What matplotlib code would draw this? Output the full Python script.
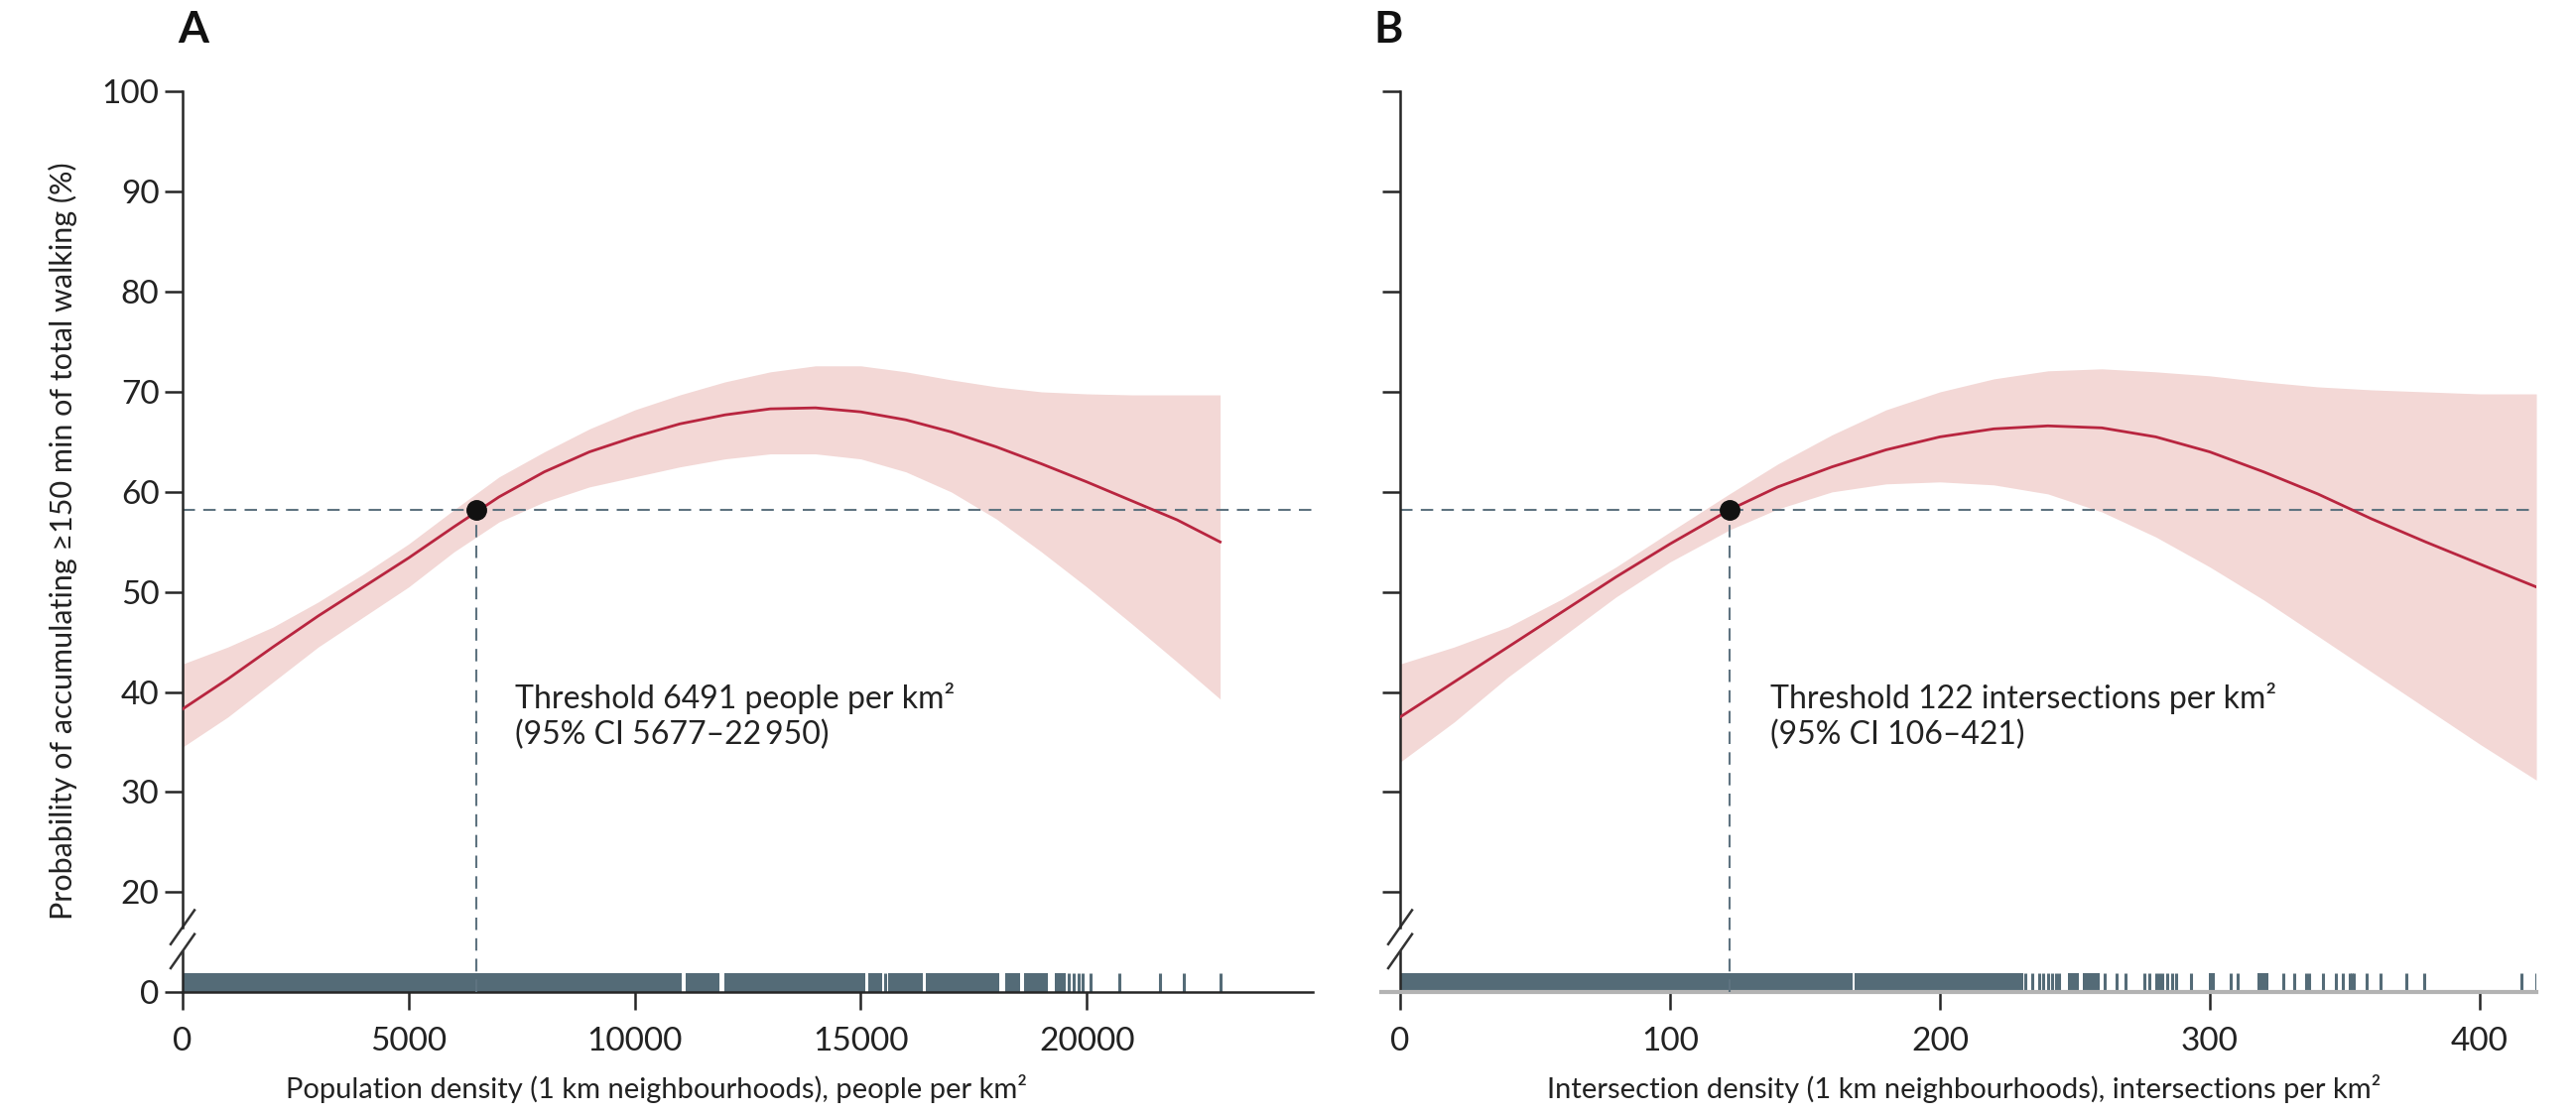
import matplotlib
matplotlib.use("Agg")
import matplotlib.pyplot as plt
import matplotlib.transforms as mtransforms
import numpy as np

plt.rcParams['font.family'] = ['Lato', 'DejaVu Sans']

# Panel A: population density
pop_x = [0, 1000, 2000, 3000, 4000, 5000, 6000, 7000, 8000, 9000, 10000, 11000,
         12000, 13000, 14000, 15000, 16000, 17000, 18000, 19000, 20000, 21000, 22000, 22950]
pop_fit = [38.3, 41.3, 44.5, 47.6, 50.5, 53.4, 56.5, 59.5, 62.0, 64.0, 65.5, 66.8,
           67.7, 68.3, 68.4, 68.0, 67.2, 66.0, 64.5, 62.8, 61.0, 59.1, 57.2, 55.0]
pop_lo = [34.5, 37.5, 41.0, 44.5, 47.5, 50.5, 54.0, 57.0, 59.0, 60.5, 61.5, 62.5,
          63.3, 63.8, 63.8, 63.3, 62.0, 60.0, 57.3, 54.0, 50.5, 46.8, 43.0, 39.3]
pop_hi = [42.8, 44.5, 46.5, 49.0, 51.8, 54.8, 58.2, 61.5, 64.0, 66.3, 68.2, 69.7,
          71.0, 72.0, 72.6, 72.6, 72.0, 71.2, 70.5, 70.0, 69.8, 69.7, 69.7, 69.7]
pop_threshold = 6491
pop_rug_spans = [(0, 11050), (11130, 11880), (11990, 15090), (15170, 15480),
                 (15610, 16380), (16450, 18070), (18200, 18520), (18620, 19130),
                 (19300, 19540)]
pop_rug_ticks = [15530, 19610, 19700, 19810, 19900, 20090, 20730, 21610, 22150, 22950]
pop_xticks = [0, 5000, 10000, 15000, 20000]
pop_text = "Threshold 6491 people per km\u00b2\n(95% CI 5677\u201322\u2009950)"
pop_xlabel = "Population density (1 km neighbourhoods), people per km\u00b2"

# Panel B: intersection density
int_x = [0, 20, 40, 60, 80, 100, 122, 140, 160, 180, 200, 220, 240, 260, 280,
         300, 320, 340, 360, 380, 400, 421]
int_fit = [37.5, 41.0, 44.5, 48.0, 51.5, 54.8, 58.2, 60.5, 62.5, 64.2, 65.5, 66.3,
           66.6, 66.4, 65.5, 64.0, 62.0, 59.8, 57.3, 55.0, 52.8, 50.5]
int_lo = [33.0, 37.0, 41.5, 45.5, 49.5, 53.0, 56.2, 58.3, 60.0, 60.8, 61.0, 60.7,
          59.8, 58.0, 55.5, 52.5, 49.2, 45.6, 42.0, 38.4, 34.8, 31.2]
int_hi = [42.8, 44.5, 46.5, 49.3, 52.5, 56.0, 59.8, 62.8, 65.7, 68.2, 70.0, 71.3,
          72.1, 72.3, 72.0, 71.6, 71.0, 70.5, 70.2, 70.0, 69.8, 69.8]
int_threshold = 122
int_rug_spans = [(0, 167.6), (168.4, 231.0), (247.3, 251.4), (253.0, 259.3),
                 (299.5, 302.0), (317.5, 321.6)]
int_rug_ticks = [231.8, 234.3, 236.7, 238.3, 240.0, 241.6, 243.0, 244.1, 261.2,
                 265.3, 268.6, 275.9, 277.5, 280.0, 281.2, 282.4, 284.4, 286.0,
                 287.6, 293.0, 307.7, 310.2, 327.3, 331.4, 335.8, 336.8, 342.0,
                 346.9, 349.3, 351.8, 352.6, 353.4, 358.3, 363.2, 373.0, 379.5,
                 415.4, 421.1]
int_xticks = [0, 100, 200, 300, 400]
int_text = "Threshold 122 intersections per km\u00b2\n(95% CI 106\u2013421)"
int_xlabel = "Intersection density (1 km neighbourhoods), intersections per km\u00b2"

threshold_prob = 58.2
yticks = [20, 30, 40, 50, 60, 70, 80, 90, 100]

LINE = '#b8253f'
BAND = '#f3d8d6'
RUG = '#546b77'
DASH = '#5e7380'
AX = '#262626'
FS = 24

W, H = 2596, 1125
fig = plt.figure(figsize=(W / 100, H / 100), dpi=100)


def fx(px):
    return px / W


def fy(py):
    return 1 - py / H


def panel(left_px, right_px, xmax, x, fit, lo, hi, thr, spans, ticks, xticks,
          text, text_x, show_y, gray_base):
    bottom = fy(1000.2)
    rug_top = fy(958.5)
    # rug axes
    rax = fig.add_axes([fx(left_px), bottom, fx(right_px - left_px), rug_top - bottom])
    rax.set_xlim(0, xmax)
    rax.set_ylim(0, 1)
    rax.broken_barh([(a, b - a) for a, b in spans], (0, 0.47), facecolors=RUG, lw=0)
    rax.vlines(ticks, 0, 0.47, color=RUG, lw=2.2)
    rax.spines['top'].set_visible(False)
    rax.spines['right'].set_visible(False)
    rax.spines['left'].set_color(AX)
    rax.spines['left'].set_linewidth(1.8)
    if gray_base:
        rax.spines['bottom'].set_color('#b3b3b3')
        rax.spines['bottom'].set_linewidth(3)
        rax.spines['bottom'].set_bounds(-7, xmax)
    else:
        rax.spines['bottom'].set_color(AX)
        rax.spines['bottom'].set_linewidth(1.8)
    rax.set_xticks(xticks)
    rax.set_xticklabels([str(t) for t in xticks])
    rax.tick_params(axis='x', length=13, width=1.8, color=AX, labelsize=FS,
                    pad=12, labelcolor='#222222')
    if show_y:
        rax.set_yticks([0])
        rax.set_yticklabels(['0'])
        rax.tick_params(axis='y', length=13, width=1.8, color=AX, labelsize=FS,
                        pad=4, labelcolor='#222222')
    else:
        rax.set_yticks([])
    rax.vlines([thr], 0, 1, color=DASH, lw=1.5, linestyles=(0, (6, 4)))

    # main axes
    ax = fig.add_axes([fx(left_px), bottom, fx(right_px - left_px), fy(92.4) - bottom])
    ax.patch.set_alpha(0)
    ax.set_xlim(0, xmax)
    ax.set_ylim(10, 100)
    ax.fill_between(x, lo, hi, color=BAND, lw=0, zorder=1)
    ax.plot(x, fit, color=LINE, lw=2.0, zorder=3)
    ax.plot([0, xmax], [threshold_prob, threshold_prob], color=DASH, lw=1.5,
            ls=(0, (6, 4)), zorder=2, clip_on=False)
    ax.plot([thr, thr], [10, threshold_prob], color=DASH, lw=1.5,
            ls=(0, (6, 4)), zorder=2)
    ax.plot([thr], [threshold_prob], 'o', color='#111111', ms=14, zorder=4)
    ax.text(text_x, 37.6, text, fontsize=23, color='#222222', va='center',
            ha='left', linespacing=1.25)
    for s in ['top', 'right', 'bottom']:
        ax.spines[s].set_visible(False)
    ax.spines['left'].set_color(AX)
    ax.spines['left'].set_linewidth(1.8)
    ax.spines['left'].set_bounds(16.5, 100)
    ax.set_xticks([])
    ax.set_yticks(yticks)
    if show_y:
        ax.set_yticklabels([str(t) for t in yticks])
    else:
        ax.set_yticklabels([])
    ax.tick_params(axis='y', length=13, width=1.8, color=AX, labelsize=FS,
                   pad=4, labelcolor='#222222')
    # axis break marks
    tr = mtransforms.blended_transform_factory(ax.transAxes, ax.transData)
    dx = 12 / (right_px - left_px)
    for yc in [16.5, 14.1]:
        ax.plot([-dx, dx], [yc - 1.7, yc + 1.7], color='#333333', lw=1.8,
                transform=tr, clip_on=False)
    return ax


panel(184, 1323, 25000, pop_x, pop_fit, pop_lo, pop_hi, pop_threshold,
      pop_rug_spans, pop_rug_ticks, pop_xticks, pop_text, 7350, True, False)
panel(1411, 2556, 421, int_x, int_fit, int_lo, int_hi, int_threshold,
      int_rug_spans, int_rug_ticks, int_xticks, int_text, 137, False, True)

fig.text(fx(195), fy(30), 'A', fontsize=32, fontweight='bold', ha='center',
         va='center', color='#111111')
fig.text(fx(1399), fy(30), 'B', fontsize=32, fontweight='bold', ha='center',
         va='center', color='#111111')
fig.text(fx(63), fy(545), 'Probability of accumulating \u2265150 min of total walking (%)',
         fontsize=22, rotation=90, ha='center', va='center', color='#222222')
fig.text(fx(662), fy(1098), pop_xlabel, fontsize=21, ha='center', va='center', color='#222222')
fig.text(fx(1979), fy(1098), int_xlabel, fontsize=21, ha='center', va='center', color='#222222')

fig.savefig('out.png', dpi=100)
